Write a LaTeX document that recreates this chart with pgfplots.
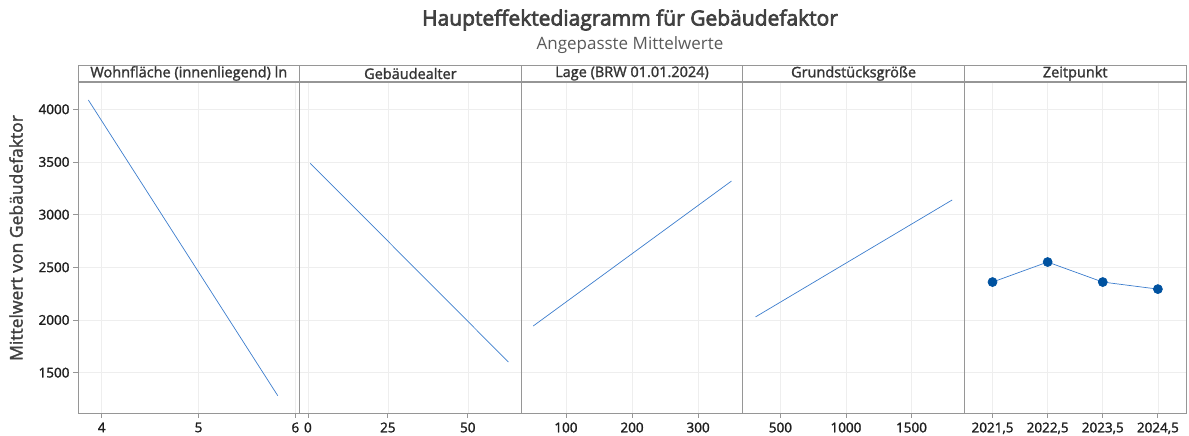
\documentclass[border=0pt]{standalone}
\usepackage{fontspec}
\setmainfont{Open Sans}
\newfontfamily\semib[FakeBold=1.6]{Open Sans}
\newfontfamily\semibb[FakeBold=3.2]{Open Sans}
\usepackage{pgfplots}
\pgfplotsset{compat=1.18}
\definecolor{framec}{RGB}{150,150,150}
\definecolor{gridc}{RGB}{238,238,238}
\definecolor{lineb}{RGB}{60,125,205}
\definecolor{markb}{RGB}{0,82,160}
\definecolor{txt}{RGB}{30,30,30}
\pgfplotsset{
  panel/.style={
    scale only axis, width=221.6pt, height=331pt,
    anchor=south west,
    ymin=1117, ymax=4259, ytick={1500,2000,2500,3000,3500,4000},
    grid=major, major grid style={gridc, line width=0.6pt},
    axis line style={framec, line width=0.9pt},
    tick style={framec, line width=0.8pt},
    tick align=outside, major tick length=5pt,
    xtick pos=bottom, ytick pos=left,
    clip=false,
    /pgf/number format/assume math mode=true,
    /pgf/number format/1000 sep={},
    ticklabel style={font=\semib\fontsize{13.5}{16}\selectfont, text=txt},
    xticklabel style={yshift=-1pt},
  },
  noy/.style={yticklabels={}, ytick style={draw=none}},
}
\newcommand{\strip}[1]{%
  \draw[framec, line width=0.9pt] (rel axis cs:0,1) -- (rel axis cs:0,1.0514) -- (rel axis cs:1,1.0514) -- (rel axis cs:1,1);
  \draw[framec, line width=1.6pt] (rel axis cs:0,1) -- (rel axis cs:1,1);
  \node[text=txt!90, font=\semib\fontsize{14.5}{16}\selectfont] at (rel axis cs:0.5,1.0257) {#1};
}
\begin{document}
\begin{tikzpicture}
\path[use as bounding box] (0pt,0pt) rectangle (1189pt,436pt);
% Panel 1
\begin{axis}[panel, at={(78pt,23pt)}, xmin=3.755, xmax=6.044, xtick={4,5,6}]
\addplot[lineb, line width=0.7pt] coordinates {(3.862,4088) (5.818,1282)};
\strip{Wohnfläche (innenliegend) ln}
\end{axis}
% Panel 2
\begin{axis}[panel, noy, at={(299.6pt,23pt)}, xmin=-2.6, xmax=66.7, xtick={0,25,50}]
\addplot[lineb, line width=0.7pt] coordinates {(0.75,3487) (62.7,1601)};
\strip{Gebäudealter}
\end{axis}
% Panel 3
\begin{axis}[panel, noy, at={(521.2pt,23pt)}, xmin=32.3, xmax=367.6, xtick={100,200,300}]
\addplot[lineb, line width=0.7pt] coordinates {(50.5,1943) (350.5,3319)};
\strip{Lage (BRW 01.01.2024)}
\end{axis}
% Panel 4
\begin{axis}[panel, noy, at={(742.8pt,23pt)}, xmin=213, xmax=1903.6, xtick={500,1000,1500}]
\addplot[lineb, line width=0.7pt] coordinates {(310,2029) (1810,3139)};
\strip{Grundstücksgröße}
\end{axis}
% Panel 5
\begin{axis}[panel, noy, at={(964.4pt,23pt)}, xmin=2020.99, xmax=2025.01,
  xtick={2021.5,2022.5,2023.5,2024.5}, xticklabels={{2021,5},{2022,5},{2023,5},{2024,5}}]
\addplot[lineb, line width=0.7pt, mark=*, mark size=4.5pt, mark options={fill=markb, draw=markb}] coordinates {(2021.5,2360) (2022.5,2550) (2023.5,2360) (2024.5,2293)};
\strip{Zeitpunkt}
\end{axis}
\node[text=txt!85, font=\semibb\fontsize{21}{25}\selectfont] at (630pt,416pt) {Haupteffektediagramm für Gebäudefaktor};
\node[text=black!65, font=\fontsize{17}{20}\selectfont] at (630pt,391pt) {Angepasste Mittelwerte};
\node[text=txt!85, rotate=90, font=\semib\fontsize{17.5}{20}\selectfont] at (16pt,198pt) {Mittelwert von Gebäudefaktor};
\end{tikzpicture}
\end{document}
